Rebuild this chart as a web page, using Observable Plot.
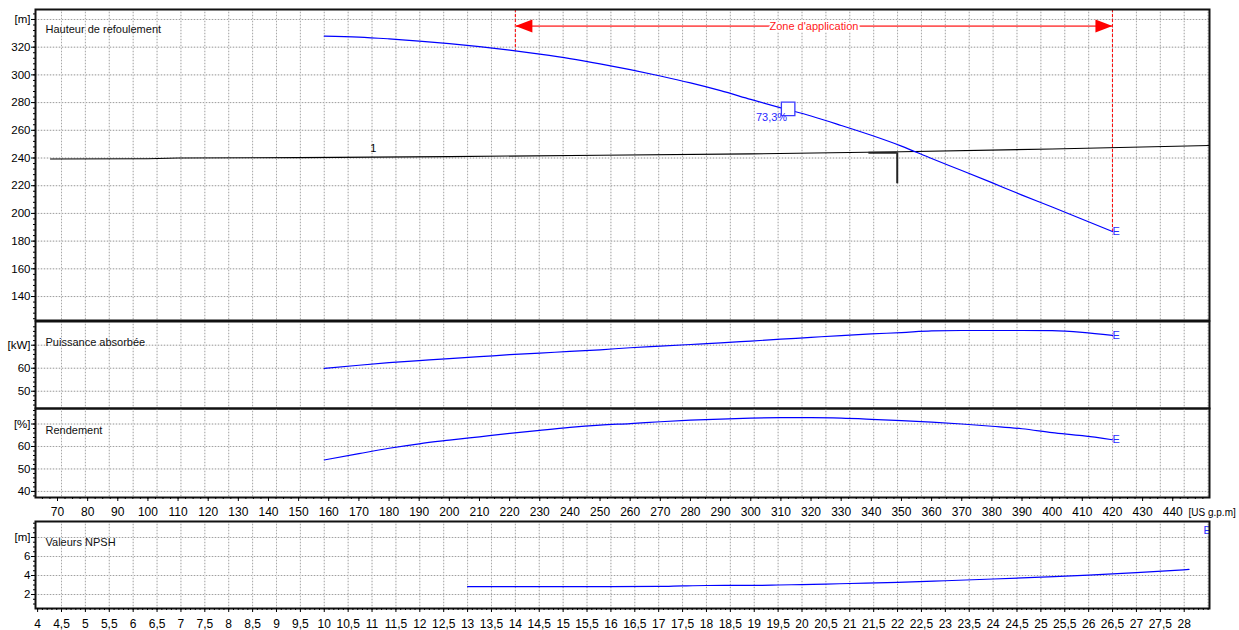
<!DOCTYPE html>
<html><head><meta charset="utf-8">
<script src="https://cdn.jsdelivr.net/npm/d3@7"></script>
<script src="https://cdn.jsdelivr.net/npm/@observablehq/plot@0.6"></script>
<style>
body{margin:0;background:#fff;}
#chart{position:relative;width:1239px;height:630px;overflow:hidden;font-family:"Liberation Sans",Arial,sans-serif;}
#chart svg{position:absolute;left:0;overflow:visible;background:transparent;}
</style></head><body><div id="chart"></div>
<script>
const LPS = 15.850323; // US g.p.m per l/s

// pump curve stations, Q in US g.p.m
const flowGpm = [158.5,170,180,190,200,210,220,230,240,250,260,270,280,290,300,310,320,330,340,350,360,370,380,390,400,410,420];
const headM = [328,327.3,326,324.4,322.6,320.4,317.9,315,311.8,308,303.8,299.2,294.2,288.6,282.3,276.2,270.3,263.5,256.4,248.6,239.6,231,222.2,213.2,204.6,195.8,186.9];
const powerKW = [59.9,61.3,62.4,63.3,64.2,65,65.9,66.6,67.3,68,68.9,69.6,70.3,71,71.8,72.6,73.4,74.2,74.9,75.5,76.2,76.4,76.4,76.4,76.3,75.6,74.3];
const efficiencyPct = [54,56.8,59.2,61.2,62.8,64.3,65.8,67.2,68.5,69.5,70.2,71,71.7,72.2,72.6,72.8,72.8,72.6,72.1,71.5,70.8,70,69,67.9,66.2,64.8,63];
// NPSH, Q in l/s
const npshFlowLps = [13,14,15,16,17,17.5,18,19,19.5,20,20.5,21,22,23,24,25,26,27,28.1];
const npshM = [2.84,2.84,2.84,2.84,2.85,2.91,2.95,2.96,3,3.05,3.1,3.16,3.28,3.45,3.63,3.82,4.03,4.3,4.64];
// system curve "1"
const systemFlowGpm = [67.7,100,110,150,200,250,300,350,400,452.2];
const systemHeadM = [239.3,239.5,240,240.3,241,242,243,244.5,246.5,249];
const systemLabel = {q: 174.8, h: 240.6, text: "1"};
// application zone
const zoneGpm = [221.9, 420];
const zoneHeadM = [317.3, 186.9];
const zoneArrowHeadM = 335.2;
const zoneLabel = "Zone d'application";
// best efficiency point
const bep = {q: 312.4, h: 275.5, text: "73,3%"};
// duty point marker
const dutyGpm = [339.2, 348.6];
const dutyHeadM = 243.8, dutyLowM = 221.4;

const gpmTicks = d3.range(70, 441, 10);
const lpsTicks = d3.range(4, 28.01, 0.5);
const headTicks = d3.range(140, 341, 20);
const powerTicks = [50, 60, 70];
const effTicks = [40, 50, 60, 70];
const npshTicks = [2, 4, 6, 8];
const titles = ["Hauteur de refoulement", "Puissance absorbée", "Rendement", "Valeurs NPSH"];
const units = ["[m]", "[kW]", "[%]", "[m]"];
const flowUnit = "[US g.p.m]";

const W = 1239, ML = 35, MR = 30;
const xDomain = [62.7, 452.2];
const font = '"Liberation Sans", Arial, Helvetica, sans-serif';
const BLUE = "#0000ff", TBLUE = "#2a2aff";
const chart = document.getElementById("chart");

const pump = flowGpm.map((q, i) => ({q, h: headM[i], p: powerKW[i], e: efficiencyPct[i]}));
const npsh = npshFlowLps.map((l, i) => ({q: l * LPS, n: npshM[i]}));
const system = systemFlowGpm.map((q, i) => ({q, h: systemHeadM[i]}));
const gridXv = d3.range(4.5, 28.51, 0.5).map(v => v * LPS);
const last = pump[pump.length - 1];

const arrowRight = {draw(c) { c.moveTo(0, 0); c.lineTo(-17, -6.5); c.lineTo(-17, 6.5); c.closePath(); }};
const arrowLeft = {draw(c) { c.moveTo(0, 0); c.lineTo(17, -6.5); c.lineTo(17, 6.5); c.closePath(); }};

function grid(yt) {
  return [
    Plot.gridX(gridXv, {stroke: "#e6e6e6", strokeOpacity: 1}),
    Plot.gridX(gridXv, {stroke: "#a8a8a8", strokeOpacity: 1, strokeDasharray: "1,2"}),
    Plot.gridY(yt, {stroke: "#e2e2e2", strokeOpacity: 1}),
    Plot.gridY(yt, {stroke: "#a0a0a0", strokeOpacity: 1, strokeDasharray: "1,2"})
  ];
}
function yAxes(yt, minor, unit) {
  const top = yt[yt.length - 1];
  return [
    Plot.axisY(minor, {tickSize: 2, tickFormat: () => "", label: null}),
    Plot.axisY(yt, {tickSize: 4, tickPadding: 1, fontSize: 11.5, label: null,
      tickFormat: d => d === top ? unit : String(d)})
  ];
}
function title(t, dy) {
  return Plot.text([t], {frameAnchor: "top-left", dx: 10, dy, textAnchor: "start", lineAnchor: "middle", fontSize: 11, fill: "#111"});
}
function panel(o) {
  const svg = Plot.plot({
    width: W, height: o.height, marginLeft: ML, marginRight: MR, marginTop: o.mt, marginBottom: o.mb,
    x: Object.assign({domain: xDomain, label: null}, o.xAxis ? {} : {axis: null}),
    y: {domain: o.yDomain, label: null},
    style: {fontFamily: font, fontSize: "11.5px", background: "transparent", overflow: "visible", color: "#000"},
    marks: o.marks
  });
  svg.style.top = o.top + "px";
  chart.appendChild(svg);
}

// Panel 1: head
panel({top: 0, height: 322, mt: 9, mb: 2, yDomain: [122.7, 347.2], marks: [
  ...grid(headTicks),
  Plot.line(system, {x: "q", y: "h", stroke: "#000", strokeWidth: 1.1}),
  Plot.text([systemLabel], {x: "q", y: "h", text: "text", dy: -9, fontSize: 11, fill: "#000"}),
  Plot.ruleX(zoneGpm.map((q, i) => ({q, h: zoneHeadM[i]})), {x: "q", y1: 347.2, y2: "h", stroke: "#ff0000", strokeDasharray: "3,2"}),
  Plot.ruleY([zoneArrowHeadM], {x1: zoneGpm[0], x2: zoneGpm[1], stroke: "#ff5a5a", strokeWidth: 1.6}),
  Plot.dot([zoneGpm[0]], {x: d => d, y: zoneArrowHeadM, symbol: arrowLeft, fill: "#ff0000", stroke: null}),
  Plot.dot([zoneGpm[1]], {x: d => d, y: zoneArrowHeadM, symbol: arrowRight, fill: "#ff0000", stroke: null}),
  Plot.text([zoneLabel], {x: (zoneGpm[0] + zoneGpm[1]) / 2, y: zoneArrowHeadM, fill: "#ff2020", stroke: "#fff", strokeWidth: 4, fontSize: 11}),
  Plot.line(pump, {x: "q", y: "h", stroke: BLUE, strokeWidth: 1.2, curve: "monotone-x"}),
  Plot.ruleY([dutyHeadM], {x1: dutyGpm[0], x2: dutyGpm[1], stroke: "#222", strokeWidth: 2}),
  Plot.ruleX([dutyGpm[1]], {y1: dutyLowM, y2: dutyHeadM, stroke: "#222", strokeWidth: 2}),
  Plot.dot([bep], {x: "q", y: "h", symbol: "square", r: 7.6, stroke: "#3a3aff", fill: "#fff", strokeWidth: 1.3}),
  Plot.text([bep], {x: "q", y: "h", text: "text", textAnchor: "end", dx: -1, dy: 9, fill: TBLUE, fontSize: 11}),
  Plot.text([last], {x: "q", y: "h", text: () => "E", textAnchor: "start", fill: TBLUE, fontSize: 11}),
  title(titles[0], 20),
  Plot.frame({stroke: "#111", strokeWidth: 2}),
  ...yAxes(headTicks, d3.range(124, 347, 4), units[0])
]});

// Panel 2: power
panel({top: 318, height: 92, mt: 3, mb: 2, yDomain: [42.5, 80.3], marks: [
  ...grid(powerTicks),
  Plot.line(pump, {x: "q", y: "p", stroke: BLUE, strokeWidth: 1.2, curve: "monotone-x"}),
  Plot.text([last], {x: "q", y: "p", text: () => "E", textAnchor: "start", fill: TBLUE, fontSize: 11}),
  title(titles[1], 21),
  Plot.frame({stroke: "#111", strokeWidth: 2}),
  ...yAxes(powerTicks, d3.range(44, 80, 2), units[1])
]});

// Panel 3: efficiency + gpm axis
panel({top: 406, height: 117, mt: 2, mb: 26, xAxis: true, yDomain: [37.3, 76.9], marks: [
  ...grid(effTicks),
  Plot.line(pump, {x: "q", y: "e", stroke: BLUE, strokeWidth: 1.2, curve: "monotone-x"}),
  Plot.text([last], {x: "q", y: "e", text: () => "E", textAnchor: "start", fill: TBLUE, fontSize: 11}),
  title(titles[2], 22),
  Plot.frame({stroke: "#111", strokeWidth: 2}),
  ...yAxes(effTicks, d3.range(38, 77, 2), units[2]),
  Plot.axisX(d3.range(65, 451, 2.5), {anchor: "bottom", tickSize: 2, tickFormat: () => "", label: null}),
  Plot.axisX(gpmTicks, {anchor: "bottom", tickSize: 4, tickPadding: 6, fontSize: 12, label: null}),
  Plot.text([flowUnit], {frameAnchor: "bottom-right", dx: -21, dy: 15, textAnchor: "start", lineAnchor: "middle", fontSize: 10, fill: "#000"})
]});

// Panel 4: NPSH + l/s axis
panel({top: 519, height: 111, mt: 2, mb: 22, xAxis: true, yDomain: [0.53, 9.68], marks: [
  ...grid(npshTicks),
  Plot.line(npsh, {x: "q", y: "n", stroke: BLUE, strokeWidth: 1.2, curve: "monotone-x"}),
  Plot.text(["E"], {frameAnchor: "top-right", dx: -6, dy: 9, textAnchor: "start", lineAnchor: "middle", fill: TBLUE, fontSize: 11, clip: "frame"}),
  title(titles[3], 21),
  Plot.frame({stroke: "#111", strokeWidth: 2}),
  ...yAxes(npshTicks, d3.range(1, 9.6, 0.5), units[3]),
  Plot.axisX(d3.range(4, 28.55, 0.1).map(v => v * LPS), {anchor: "bottom", tickSize: 2, tickFormat: () => "", label: null}),
  Plot.axisX(lpsTicks.map(v => v * LPS), {anchor: "bottom", tickSize: 4, tickPadding: 7, fontSize: 12, label: null,
    tickFormat: d => String(Math.round(d / LPS * 2) / 2).replace(".", ",")})
]});
</script></body></html>
